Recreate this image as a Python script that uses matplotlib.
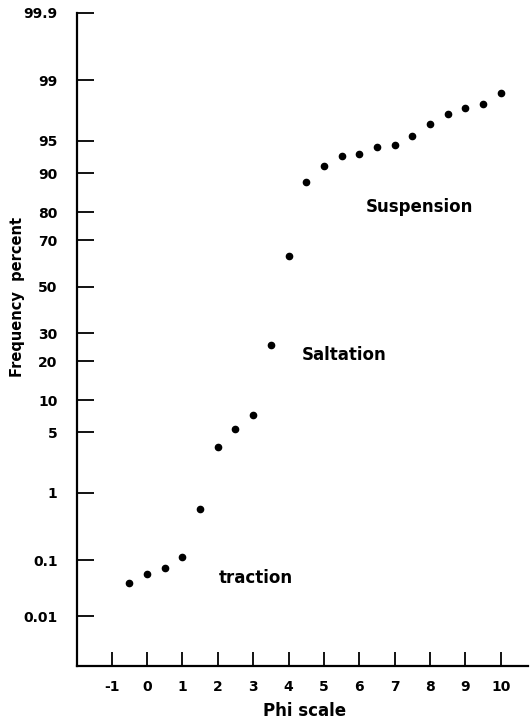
"""Grain-size cumulative curve on a probability (normal) scale."""

from statistics import NormalDist

import matplotlib

matplotlib.use("Agg")
import matplotlib.pyplot as plt
import numpy as np

plt.rcParams["font.family"] = ["DejaVu Sans"]
plt.rcParams["font.weight"] = "bold"
plt.rcParams["axes.unicode_minus"] = False

# data
phi = [-0.5, 0, 0.5, 1, 1.5, 2, 2.5, 3, 3.5, 4, 4.5, 5, 5.5,
       6, 6.5, 7, 7.5, 8, 8.5, 9, 9.5, 10]
freq_pct = [0.042, 0.060, 0.076, 0.115, 0.61, 3.55, 5.45, 7.4, 25.6, 63.7, 88.0,
            91.4, 92.9, 93.3, 94.3, 94.55, 95.5, 96.7, 97.45, 97.8, 98.05, 98.57]

x_ticks = [-1, 0, 1, 2, 3, 4, 5, 6, 7, 8, 9, 10]
y_ticks = [0.01, 0.1, 1, 5, 10, 20, 30, 50, 70, 80, 90, 95, 99, 99.9]
y_tick_labels = ["0.01", "0.1", "1", "5", "10", "20", "30", "50",
                 "70", "80", "90", "95", "99", "99.9"]

regions = [("Suspension", 7.71, 81.7), ("Saltation", 5.58, 22.1), ("traction", 3.07, 0.051)]

_nd = NormalDist()


def _to_z(p):
    p = np.clip(np.asarray(p, dtype=float) / 100.0, 1e-12, 1 - 1e-12)
    return np.vectorize(_nd.inv_cdf, otypes=[float])(p)


def _from_z(z):
    return 100.0 * np.vectorize(_nd.cdf, otypes=[float])(np.asarray(z, dtype=float))


fig = plt.figure(figsize=(5.30, 7.21), dpi=100)
ax = fig.add_axes([0.1453, 0.0763, 0.851, 0.906])

ax.set_yscale("function", functions=(_to_z, _from_z))
ax.plot(phi, freq_pct, "o", color="black", markersize=4.5, linestyle="none")

ax.set_xlim(-1.98, 10.77)
ax.set_ylim(0.00093, 99.9)
ax.set_xticks(x_ticks)
ax.set_yticks(y_ticks)
ax.set_yticklabels(y_tick_labels)
ax.minorticks_off()

for side in ("top", "right"):
    ax.spines[side].set_visible(False)
for side in ("left", "bottom"):
    ax.spines[side].set_linewidth(1.6)

ax.tick_params(axis="y", direction="in", length=12, width=1.3, pad=14, labelsize=10)
ax.tick_params(axis="x", direction="in", length=10, width=1.3, pad=10, labelsize=10)

ax.set_xlabel("Phi scale", fontsize=12, fontweight="bold")
ax.set_ylabel("Frequency  percent", fontsize=10.5, fontweight="bold")
ax.xaxis.set_label_coords(0.505, -0.069)
ax.xaxis.label.set_va("center")
ax.yaxis.set_label_coords(-0.131, 0.565)
ax.yaxis.label.set_va("center")

for label, x, y in regions:
    ax.text(x, y, label, ha="center", va="center", fontsize=12, fontweight="bold")

fig.savefig("out.png", dpi=100)
